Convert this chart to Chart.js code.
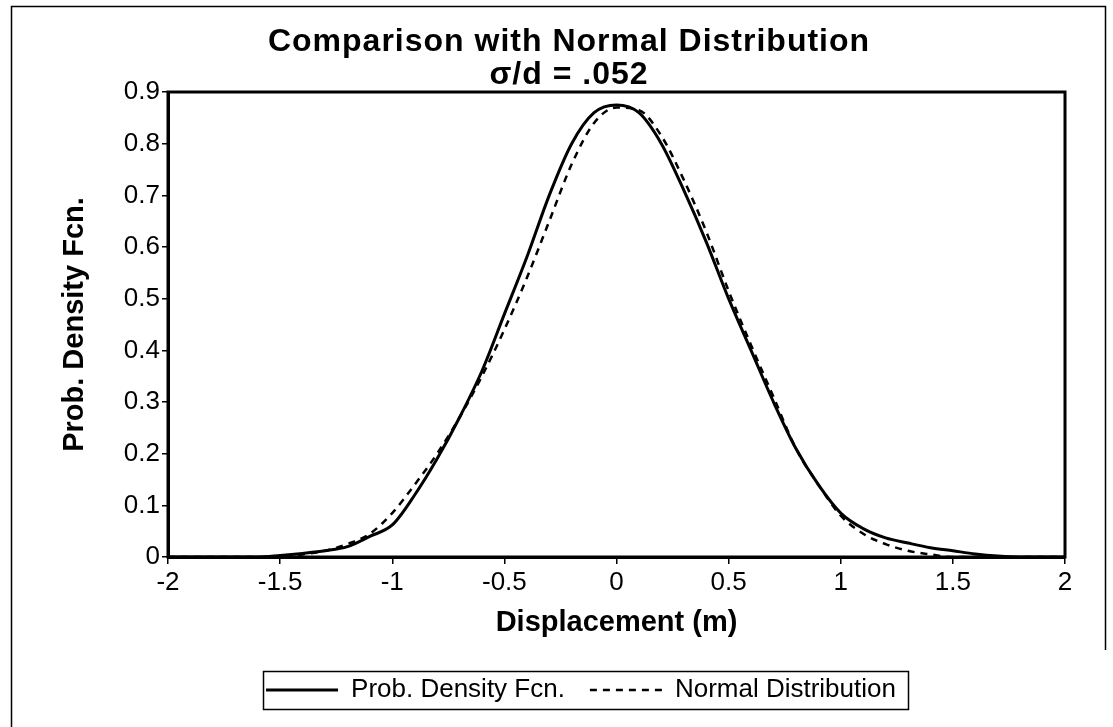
<!DOCTYPE html>
<html>
<head>
<meta charset="utf-8">
<script src="https://cdn.jsdelivr.net/npm/chart.js@4.4.1/dist/chart.umd.min.js"></script>
<style>
html,body{margin:0;padding:0;background:#fff;}
#wrap{width:1113px;height:727px;position:relative;}
</style>
</head>
<body>
<div id="wrap"><canvas id="c" width="1113" height="727"></canvas></div>
<script>
const xValues = [-2.0,-1.9,-1.8,-1.7,-1.6,-1.5,-1.4,-1.3,-1.2,-1.1,-1.0,-0.9,-0.8,-0.7,-0.6,-0.5,-0.4,-0.3,-0.2,-0.1,0.0,0.1,0.2,0.3,0.4,0.5,0.6,0.7,0.8,0.9,1.0,1.1,1.2,1.3,1.4,1.5,1.6,1.7,1.8,1.9,2.0];
const pdfValues = [0,0,0,0,0,0.003,0.007,0.012,0.02,0.04,0.062,0.12,0.19,0.27,0.36,0.47,0.58,0.70,0.80,0.86,0.875,0.86,0.80,0.71,0.61,0.50,0.40,0.30,0.21,0.14,0.085,0.055,0.037,0.027,0.018,0.012,0.006,0.002,0,0,0];
const normalValues = [0,0,0,0,0,0,0.005,0.012,0.025,0.045,0.085,0.14,0.2,0.27,0.35,0.44,0.54,0.65,0.76,0.84,0.87,0.865,0.815,0.73,0.63,0.515,0.41,0.31,0.21,0.14,0.08,0.045,0.025,0.012,0.005,0,0,0,0,0,0];
const xTicks = [-2,-1.5,-1,-0.5,0,0.5,1,1.5,2];
const yTicks = [0,0.1,0.2,0.3,0.4,0.5,0.6,0.7,0.8,0.9];
const seriesNames = ['Prob. Density Fcn.', 'Normal Distribution'];
const titleLines = ['Comparison with Normal Distribution', 'σ/d = .052'];
const xTitle = 'Displacement (m)';
const yTitle = 'Prob. Density Fcn.';

const FONT = "'Liberation Sans', Arial, sans-serif";

function recenter(box, cx) {
  if (!box) return;
  const w = box.right - box.left;
  box.left = cx - w / 2;
  box.right = cx + w / 2;
}

const framePlugin = {
  id: 'frame',
  afterLayout(chart) {
    recenter(chart.legend, 581);
    const tb = chart.titleBlock;
    recenter(tb, 569);
    if (tb && !tb._spaced) {
      const orig = tb.draw;
      tb.draw = function (...args) {
        const ctx = this.ctx;
        ctx.save();
        if ('letterSpacing' in ctx) ctx.letterSpacing = '1px';
        orig.apply(this, args);
        ctx.restore();
      };
      tb._spaced = true;
    }
  },
  beforeDraw(chart) {
    const ctx = chart.ctx;
    ctx.save();
    ctx.fillStyle = '#fff';
    ctx.fillRect(0, 0, chart.width, chart.height);
    ctx.strokeStyle = '#000';
    ctx.lineWidth = 1.5;
    ctx.beginPath();
    ctx.moveTo(11.5, 727);
    ctx.lineTo(11.5, 6.5);
    ctx.lineTo(1105.5, 6.5);
    ctx.lineTo(1105.5, 650);
    ctx.stroke();
    ctx.restore();
  },
  afterDraw(chart) {
    const ctx = chart.ctx;
    const a = chart.chartArea;
    ctx.save();
    ctx.strokeStyle = '#000';
    ctx.lineWidth = 3;
    ctx.strokeRect(a.left, a.top, a.right - a.left, a.bottom - a.top);
    const lg = chart.legend;
    if (lg) {
      const pad = lg.options.labels.padding;
      const fs = lg.options.labels.font.size;
      const cy = lg.top + pad + fs / 2;
      const l = 263, r = 908;
      ctx.lineWidth = 1.5;
      ctx.strokeRect(l + 0.5, Math.round(cy - 19) + 0.5, r - l, 38);
    }
    ctx.restore();
  }
};

new Chart(document.getElementById('c'), {
  type: 'line',
  data: {
    labels: xValues,
    datasets: [
      {
        label: seriesNames[0],
        data: xValues.map((x, i) => ({x: x, y: pdfValues[i]})),
        borderColor: '#000',
        backgroundColor: '#000',
        borderWidth: 3,
        pointRadius: 0,
        cubicInterpolationMode: 'monotone',
        pointStyle: 'line'
      },
      {
        label: seriesNames[1],
        data: xValues.map((x, i) => ({x: x, y: normalValues[i]})),
        borderColor: '#000',
        backgroundColor: '#000',
        borderWidth: 2.5,
        borderDash: [7, 6],
        pointRadius: 0,
        cubicInterpolationMode: 'monotone',
        pointStyle: 'line'
      }
    ]
  },
  options: {
    responsive: false,
    animation: false,
    devicePixelRatio: 1,
    layout: { padding: { left: 40, right: 48, top: 26, bottom: 14 } },
    plugins: {
      title: {
        display: true,
        text: titleLines,
        color: '#000',
        font: { family: FONT, size: 32, weight: 'bold', lineHeight: '33px' },
        padding: { top: 0, bottom: 0 }
      },
      legend: {
        display: true,
        position: 'bottom',
        fullSize: true,
        labels: {
          color: '#000',
          font: { family: FONT, size: 26 },
          usePointStyle: true,
          pointStyle: 'line',
          pointStyleWidth: 72,
          boxHeight: 26,
          padding: 25,
          generateLabels(chart) {
            const items = Chart.defaults.plugins.legend.labels.generateLabels(chart);
            items.forEach((it) => {
              const ds = chart.data.datasets[it.datasetIndex];
              it.lineDash = ds.borderDash || [];
              it.lineWidth = ds.borderWidth;
              it.strokeStyle = ds.borderColor;
              it.pointStyle = 'line';
            });
            return items;
          }
        }
      },
      tooltip: { enabled: false }
    },
    scales: {
      x: {
        type: 'linear',
        min: -2, max: 2,
        afterBuildTicks: (s) => { s.ticks = xTicks.map(v => ({value: v})); },
        afterFit: (s) => { s.height = 95; },
        ticks: {
          color: '#000',
          font: { family: FONT, size: 26 },
          padding: 3,
          maxRotation: 0,
          autoSkip: false,
          callback: (v) => String(v)
        },
        grid: { display: true, drawOnChartArea: false, drawTicks: true, tickLength: 7, color: '#000', lineWidth: 1.5 },
        border: { display: true, color: '#000', width: 3 },
        title: {
          display: true,
          text: xTitle,
          color: '#000',
          font: { family: FONT, size: 29, weight: 'bold' },
          padding: { top: 10, bottom: 12 }
        }
      },
      y: {
        type: 'linear',
        min: 0, max: 0.9,
        afterBuildTicks: (s) => { s.ticks = yTicks.map(v => ({value: v})); },
        afterFit: (s) => { s.width = 128; },
        ticks: {
          color: '#000',
          font: { family: FONT, size: 26 },
          padding: 2,
          autoSkip: false,
          callback: (v) => (v === 0 ? '0' : String(Math.round(v * 10) / 10))
        },
        grid: { display: true, drawOnChartArea: false, drawTicks: true, tickLength: 6, color: '#000', lineWidth: 1.5 },
        border: { display: true, color: '#000', width: 3 },
        title: {
          display: true,
          text: yTitle,
          color: '#000',
          font: { family: FONT, size: 29, weight: 'bold' },
          padding: { top: 18, bottom: 10 }
        }
      }
    }
  },
  plugins: [framePlugin]
});
</script>
</body>
</html>
